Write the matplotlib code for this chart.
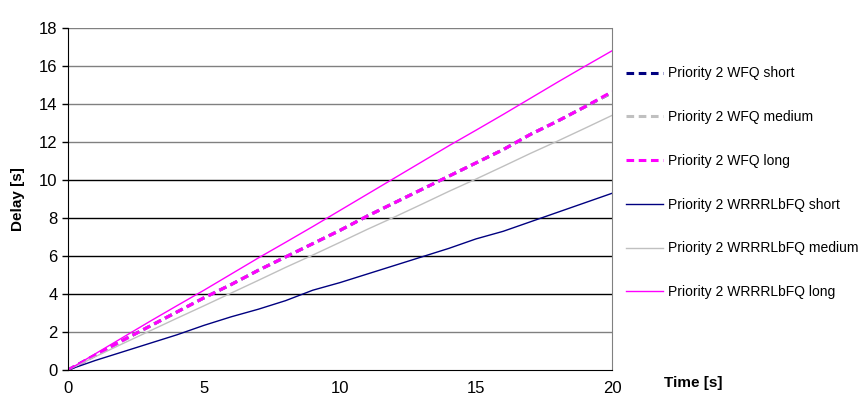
import matplotlib
matplotlib.use('Agg')
import matplotlib.pyplot as plt

plt.rcParams['font.family'] = ['Liberation Sans', 'DejaVu Sans']

time_s = list(range(0, 21))

# delay values, one per second
wfq_short = [0, 0.78, 1.55, 2.3, 3.05, 3.8, 4.5, 5.25, 5.95, 6.65, 7.35,
             8.1, 8.8, 9.5, 10.2, 10.9, 11.6, 12.4, 13.1, 13.85, 14.6]
wfq_medium = [0, 0.77, 1.54, 2.3, 3.05, 3.8, 4.5, 5.25, 5.95, 6.65, 7.35,
              8.1, 8.8, 9.5, 10.2, 10.9, 11.6, 12.4, 13.1, 13.85, 14.6]
wfq_long = [0, 0.78, 1.55, 2.3, 3.05, 3.8, 4.5, 5.25, 5.95, 6.65, 7.35,
            8.1, 8.8, 9.5, 10.2, 10.9, 11.6, 12.4, 13.1, 13.85, 14.65]
wrr_short = [0, 0.5, 0.95, 1.4, 1.85, 2.35, 2.8, 3.2, 3.65, 4.2, 4.6,
             5.05, 5.5, 5.95, 6.4, 6.9, 7.3, 7.8, 8.3, 8.8, 9.3]
wrr_medium = [0, 0.7, 1.38, 2.05, 2.72, 3.38, 4.05, 4.72, 5.4, 6.05, 6.72,
              7.4, 8.05, 8.72, 9.4, 10.05, 10.72, 11.4, 12.05, 12.72, 13.4]
wrr_long = [0, 0.85, 1.7, 2.55, 3.38, 4.2, 5.05, 5.9, 6.72, 7.55, 8.4,
            9.25, 10.1, 10.95, 11.8, 12.62, 13.45, 14.3, 15.15, 15.98, 16.8]

labels = ['Priority 2 WFQ short', 'Priority 2 WFQ medium', 'Priority 2 WFQ long',
          'Priority 2 WRRRLbFQ short', 'Priority 2 WRRRLbFQ medium',
          'Priority 2 WRRRLbFQ long']

fig = plt.figure(figsize=(8.67, 4.12), dpi=100)
ax = fig.add_axes([68/867, 1 - 370/412, 544/867, 342/412])

ax.plot(time_s, wfq_short, color='#000080', ls=(0, (2.5, 1.5)), lw=2.2, label=labels[0])
ax.plot(time_s, wfq_medium, color='#c0c0c0', ls=(0, (2.5, 1.5)), lw=2.2, label=labels[1])
ax.plot(time_s, wfq_long, color='#ff00ff', ls=(0, (2.5, 1.5)), lw=2.2, label=labels[2])
ax.plot(time_s, wrr_short, color='#000080', lw=1, label=labels[3])
ax.plot(time_s, wrr_medium, color='#c0c0c0', lw=1, label=labels[4])
ax.plot(time_s, wrr_long, color='#ff00ff', lw=1, label=labels[5])

ax.set_xlim(0, 20)
ax.set_ylim(0, 18)
ax.set_xticks([0, 5, 10, 15, 20])
ax.set_yticks(range(0, 19, 2))
ax.tick_params(labelsize=12, length=4, direction='out', width=1)
ax.tick_params(axis='x', length=0, pad=8)

# horizontal gridlines, the lower ones come out darker in the original
for v in range(2, 19, 2):
    c = '#000000' if v in (4, 6, 8, 10) else '#808080'
    ax.axhline(v, color=c, lw=1, zorder=0)

ax.spines['left'].set_color('black')
ax.spines['bottom'].set_color('black')
ax.spines['right'].set_color('#808080')
ax.spines['top'].set_visible(False)

ax.set_ylabel('Delay [s]', fontsize=11, fontweight='bold', labelpad=10)
fig.text(664/867, 1 - 383/412, 'Time [s]', fontsize=11, fontweight='bold', va='center')

ax.legend(loc='upper left', bbox_to_anchor=(613/867, 1 - 54/412),
          bbox_transform=fig.transFigure, frameon=False, fontsize=10,
          handlelength=2.7, handletextpad=0.35, labelspacing=2.14)

plt.savefig('out.png', dpi=100)
